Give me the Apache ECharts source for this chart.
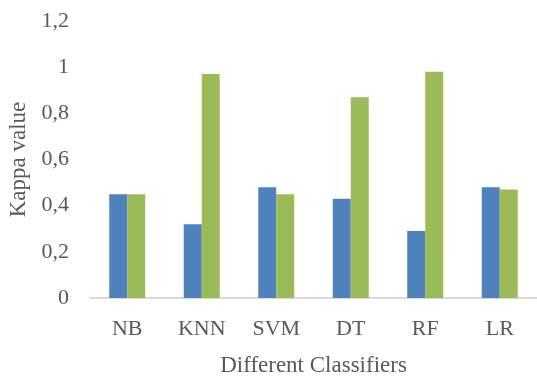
<!DOCTYPE html>
<html><head><meta charset="utf-8">
<script src="https://cdn.jsdelivr.net/npm/echarts@6/dist/echarts.min.js"></script>
<style>html,body{margin:0;padding:0;background:#fff}#c{width:537px;height:376px}</style>
</head><body><div id="c"></div>
<script>
const categories = ['NB', 'KNN', 'SVM', 'DT', 'RF', 'LR'];
const seriesA = [0.45, 0.32, 0.48, 0.43, 0.29, 0.48];
const seriesB = [0.45, 0.97, 0.45, 0.87, 0.98, 0.47];
const yTicks = [0, 0.2, 0.4, 0.6, 0.8, 1, 1.2];

const font = 'Liberation Serif, Times New Roman, serif';
const chart = echarts.init(document.getElementById('c'), null, {renderer: 'canvas'});
chart.setOption({
  animation: false,
  grid: {left: 90, right: 0, top: 21, bottom: 78, containLabel: false, outerBoundsMode: 'none'},
  xAxis: {
    type: 'category', data: categories,
    name: 'Different Classifiers', nameLocation: 'middle', nameGap: 56,
    nameTextStyle: {fontFamily: font, fontSize: 23, color: '#595959'},
    axisLine: {lineStyle: {color: '#D9D9D9', width: 2}},
    axisTick: {show: false},
    axisLabel: {fontFamily: font, fontSize: 22, color: '#595959', margin: 20}
  },
  yAxis: {
    type: 'value', min: 0, max: 1.2, interval: 0.2,
    name: 'Kappa value', nameLocation: 'middle', nameGap: 60,
    nameTextStyle: {fontFamily: font, fontSize: 23, color: '#595959'},
    axisLine: {show: false}, axisTick: {show: false},
    splitLine: {show: false},
    axisLabel: {fontFamily: font, fontSize: 22, color: '#595959', margin: 21,
      formatter: v => {
        const t = yTicks.find(x => Math.abs(x - v) < 1e-9);
        return String(t !== undefined ? t : v).replace('.', ',');
      }}
  },
  series: [
    {type: 'bar', data: seriesA, barWidth: 18, barGap: '0%', itemStyle: {color: '#4F81BD'}},
    {type: 'bar', data: seriesB, barWidth: 18, barGap: '0%', itemStyle: {color: '#9BBB59'}}
  ]
});
</script></body></html>
